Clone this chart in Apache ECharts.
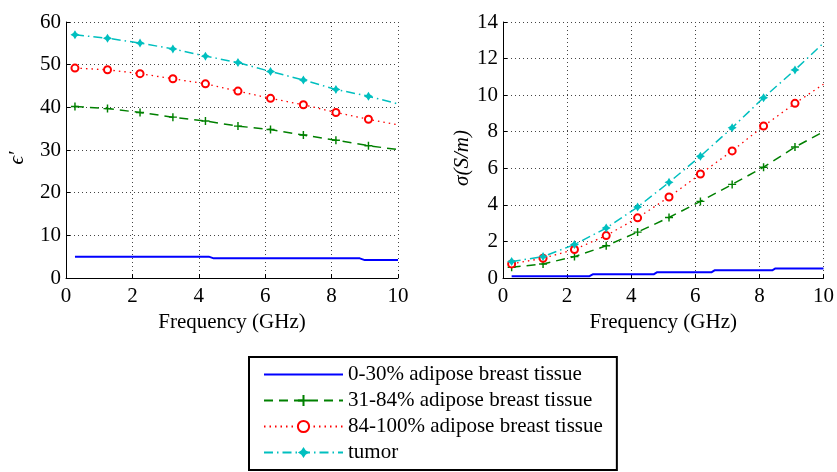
<!DOCTYPE html>
<html>
<head>
<meta charset="utf-8">
<script src="https://cdn.jsdelivr.net/npm/echarts@6/dist/echarts.min.js"></script>
<style>
  html, body { margin: 0; padding: 0; background: #fff; }
  #chart { width: 837px; height: 472px; }
</style>
</head>
<body>
<div id="chart"></div>
<script>
// frequencies (GHz) where markers sit, last one is the curve end
var freq = [0.27, 1.25, 2.23, 3.22, 4.2, 5.18, 6.16, 7.15, 8.13, 9.11, 10]

// relative permittivity
var permMid = [40.2, 39.7, 38.8, 37.7, 36.8, 35.6, 34.8, 33.5, 32.3, 31.0, 30.1]
var permHigh = [49.2, 48.8, 47.9, 46.7, 45.5, 43.8, 42.1, 40.6, 38.8, 37.2, 35.9]
var permTumor = [57.0, 56.2, 55.05, 53.7, 52.0, 50.5, 48.4, 46.4, 44.2, 42.6, 40.8]
var permLowFreq = [0.27, 4.3, 4.45, 8.85, 9.0, 10]
var permLow = [5.0, 5.0, 4.6, 4.6, 4.2, 4.2]

// conductivity (S/m)
var condMid = [0.59, 0.77, 1.17, 1.76, 2.51, 3.31, 4.19, 5.12, 6.06, 7.16, 8.0]
var condHigh = [0.77, 1.08, 1.56, 2.32, 3.29, 4.43, 5.69, 6.95, 8.31, 9.55, 10.6]
var condTumor = [0.9, 1.17, 1.83, 2.73, 3.88, 5.23, 6.66, 8.22, 9.86, 11.38, 12.85]
var condLowFreq = [0.27, 2.7, 2.8, 4.7, 4.8, 6.5, 6.6, 8.4, 8.5, 10]
var condLow = [0.1, 0.1, 0.2, 0.2, 0.31, 0.31, 0.42, 0.42, 0.52, 0.52]

var names = ['0-30% adipose breast tissue', '31-84% adipose breast tissue',
  '84-100% adipose breast tissue', 'tumor']

var font = "'Liberation Serif', 'Times New Roman', serif"
var plusPath = 'path://M4.1,0h1.8v4.1h4.1v1.8h-4.1v4.1h-1.8v-4.1h-4.1v-1.8h4.1z'
var starPath = 'path://M5,0L6.9,3.1L10,5L6.9,6.9L5,10L3.1,6.9L0,5L3.1,3.1Z'

function pts(xs, ys, lastPlain) {
  return xs.map(function (x, i) {
    if (lastPlain && i === xs.length - 1) return { value: [x, ys[i]], symbol: 'none' }
    return [x, ys[i]]
  })
}

function seriesFor(idx, low, lowX, mid, high, tumor) {
  return [
    { name: names[0], type: 'line', xAxisIndex: idx, yAxisIndex: idx, data: pts(lowX, low),
      symbol: 'none', lineStyle: { color: '#0000ff', width: 2 }, itemStyle: { color: '#0000ff' } },
    { name: names[1], type: 'line', xAxisIndex: idx, yAxisIndex: idx, data: pts(freq, mid, true),
      symbol: plusPath, symbolSize: 8,
      lineStyle: { color: '#008000', width: 1.5, type: [9, 6] }, itemStyle: { color: '#008000' } },
    { name: names[2], type: 'line', xAxisIndex: idx, yAxisIndex: idx, data: pts(freq, high, true),
      symbol: 'emptyCircle', symbolSize: 7,
      lineStyle: { color: '#ff0000', width: 1.3, type: [1.5, 4] },
      itemStyle: { color: '#ff0000', borderWidth: 1.6, borderColor: '#ff0000' } },
    { name: names[3], type: 'line', xAxisIndex: idx, yAxisIndex: idx, data: pts(freq, tumor, true),
      symbol: starPath, symbolSize: 9,
      lineStyle: { color: '#00bfbf', width: 1.5, type: [9, 4, 1.5, 4] }, itemStyle: { color: '#00bfbf' } }
  ]
}

function xAx(idx) {
  return {
    type: 'value', gridIndex: idx, min: 0, max: 10, interval: 2,
    name: 'Frequency (GHz)', nameLocation: 'middle', nameGap: 33,
    nameTextStyle: { fontFamily: font, fontSize: 21, color: '#000' },
    axisLine: { lineStyle: { color: '#000', width: 1 } },
    axisTick: { inside: true, length: 4, lineStyle: { color: '#000' } },
    axisLabel: { fontFamily: font, fontSize: 21, color: '#000', margin: 8 },
    splitLine: { show: true, lineStyle: { color: '#444', type: [1, 3], width: 1 } }
  }
}

function yAx(idx, max, interval, name, gap) {
  return {
    type: 'value', gridIndex: idx, min: 0, max: max, interval: interval,
    name: name, nameLocation: 'middle', nameGap: gap, nameRotate: 90,
    nameTextStyle: { fontFamily: font, fontSize: 21, fontStyle: 'italic', color: '#000', padding: [0, 16, 0, 0] },
    axisLine: { show: true, lineStyle: { color: '#000', width: 1 } },
    axisTick: { show: true, inside: true, length: 4, lineStyle: { color: '#000' } },
    axisLabel: { fontFamily: font, fontSize: 21, color: '#000', margin: 5 },
    splitLine: { show: true, lineStyle: { color: '#444', type: [1, 3], width: 1 } }
  }
}

var myChart = echarts.init(document.getElementById('chart'), null, { renderer: 'canvas' })

var option = {
  animation: false,
  backgroundColor: '#fff',
  grid: [
    { left: 66, top: 22, width: 332, height: 256 },
    { left: 503, top: 22, width: 334, height: 256 }
  ],
  xAxis: [xAx(0), xAx(1)],
  yAxis: [yAx(0, 60, 10, 'ϵ′', 38), yAx(1, 14, 2, 'σ(S/m)', 29)],
  legend: {
    data: [{ name: names[0], itemStyle: { opacity: 0 } }, names[1], names[2], names[3]],
    orient: 'vertical',
    left: 249, top: 357,
    padding: [7, 14, 7, 14],
    itemWidth: 79, itemHeight: 14, itemGap: 5,
    borderColor: '#000', borderWidth: 2, borderRadius: 0,
    backgroundColor: '#fff',
    selectedMode: false,
    textStyle: { fontFamily: font, fontSize: 21, color: '#000' }
  },
  series: seriesFor(0, permLow, permLowFreq, permMid, permHigh, permTumor)
    .concat(seriesFor(1, condLow, condLowFreq, condMid, condHigh, condTumor))
}

myChart.setOption(option)
</script>
</body>
</html>
